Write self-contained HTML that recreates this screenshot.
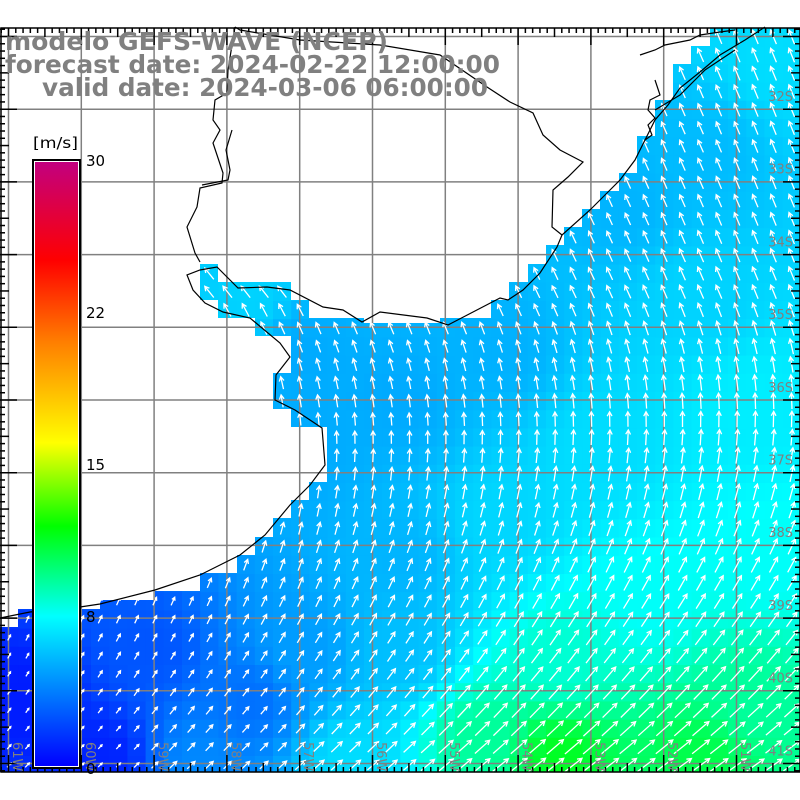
<!DOCTYPE html>
<html><head><meta charset="utf-8"><style>
html,body{margin:0;padding:0;background:#fff;}
svg{display:block;}
</style></head><body>
<svg id="s" width="800" height="800" viewBox="0 0 800 800" xmlns="http://www.w3.org/2000/svg">
<defs>
<clipPath id="ocean"><polygon id="op" points=""/></clipPath>
<linearGradient id="cb" x1="0" y1="0" x2="0" y2="1">
<stop offset="0" stop-color="#c2007f"/>
<stop offset="0.163" stop-color="#ff0000"/>
<stop offset="0.30" stop-color="#ff8000"/>
<stop offset="0.465" stop-color="#ffff00"/>
<stop offset="0.603" stop-color="#00ff00"/>
<stop offset="0.752" stop-color="#00ffff"/>
<stop offset="1" stop-color="#0000ff"/>
</linearGradient>
</defs>
<g id="cells" clip-path="url(#ocean)"></g>
<g id="grid" stroke="#808080" stroke-width="1.5" fill="none"></g>
<g id="arrows" clip-path="url(#ocean)" stroke="#fff" stroke-width="1.3" fill="none"></g>
<g fill="none" stroke="#000" stroke-width="1.2">
<polyline points="0,618 30,612 80,607 100,604 155,590 200,575 240,555 265,535 290,505 310,485 325,465 322,428 295,410 275,400 276,375 290,357 280,343 250,318 223,312 205,303 193,290 187,275 200,270 217,267 238,288 267,287 290,290 323,307 343,310 362,322 380,312 427,318 448,325 500,298 508,300 523,290 540,273 557,247 562,235 590,210 620,180 635,160 645,140 655,120 668,105 680,88 700,72 720,55 745,40 765,27"/>
<polyline points="235,27 232,45 228,70 227,93 215,100 213,120 220,130 213,143 223,173 222,183 200,188 197,207 187,227 195,253 200,262"/>
<polyline points="232,130 226,150 230,170 228,180 202,185"/>
<polyline points="235,27 240,30 300,40 380,45 440,55 487,87 510,102 533,113 543,135 560,150 583,162 568,177 553,190 552,227 562,235"/>
<polyline points="655,80 660,95 650,100 648,110 655,118 648,125 652,135 645,140"/>
<polyline points="640,55 655,50 665,45 690,40 700,35 720,32 735,30"/>
<polyline points="655,110 680,95 695,80 705,70 720,60 735,50"/>
</g>
<rect x="1" y="28" width="799" height="744" fill="none" stroke="#000" stroke-width="1.5"/>
<g id="ticks" stroke="#000" stroke-width="1.5"></g>
<g font-family="DejaVu Sans, Liberation Sans, sans-serif" font-size="13" fill="#808080" id="lab"></g>
<g font-family="DejaVu Sans, Liberation Sans, sans-serif" font-weight="bold" font-size="25" fill="#808080">
<text x="5" y="50" textLength="383" lengthAdjust="spacingAndGlyphs">modelo GEFS-WAVE (NCEP)</text>
<text x="5" y="73" textLength="495" lengthAdjust="spacingAndGlyphs">forecast date: 2024-02-22 12:00:00</text>
<text x="42" y="96" textLength="446" lengthAdjust="spacingAndGlyphs">valid date: 2024-03-06 06:00:00</text>
</g>
<rect x="33" y="160" width="47" height="608" fill="#fff" stroke="#000" stroke-width="2"/>
<rect x="35" y="162" width="43" height="604" fill="url(#cb)"/>
<g font-family="DejaVu Sans, Liberation Sans, sans-serif" font-size="15" fill="#000">
<text x="33" y="148" textLength="45" lengthAdjust="spacingAndGlyphs">[m/s]</text>
<text x="86" y="166">30</text>
<text x="86" y="318">22</text>
<text x="86" y="470">15</text>
<text x="86" y="622">8</text>
<text x="86" y="774">0</text>
</g>
</svg>
<script>
var NS="http://www.w3.org/2000/svg";
function el(t,a,p){var e=document.createElementNS(NS,t);for(var k in a)e.setAttribute(k,a[k]);p.appendChild(e);return e;}
var ocean="0,627 18,627 18,609 100,609 100,600 155,600 155,591 200,591 200,573 237,573 237,555 255,555 255,537 273,537 273,518 291,518 291,500 309,500 309,482 327,482 327,427 291,427 291,409 273,409 273,373 291,373 291,336 255,336 255,318 218,318 218,300 200,300 200,264 218,264 218,282 291,282 291,300 309,300 309,318 364,318 364,323 440,323 440,318 491,318 491,300 509,300 509,282 528,282 528,264 546,264 546,245 564,245 564,227 582,227 582,209 600,209 600,191 619,191 619,173 637,173 637,136 655,136 655,100 673,100 673,64 691,64 691,46 710,46 710,28 800,28 800,772 0,772";
document.getElementById('op').setAttribute('points',ocean);
var A=[[20,700,0.8],[100,760,1],[150,650,2.5],[250,700,3.3],[200,760,4],[300,650,4.6],[350,760,6.5],[400,650,5.6],[400,400,5],[300,350,5],[300,450,5],[500,520,6.3],[500,350,5.2],[600,450,6.5],[700,300,6.2],[700,150,5.5],[620,200,5.3],[770,60,6.5],[750,400,7],[650,600,7.6],[560,760,11.5],[480,740,9.3],[750,700,9.3],[700,760,10.8],[250,300,6.2],[400,560,5.3],[560,660,8.3],[770,560,7.6]];
function spd(x,y){var n=0,d=0;for(var i=0;i<A.length;i++){var dx=x-A[i][0],dy=y-A[i][1];var w=1/Math.pow(dx*dx+dy*dy+100,1.5);n+=w*A[i][2];d+=w;}return n/d;}
var CM=[[0,[0,0,255]],[7.5,[0,255,255]],[12.1,[0,255,0]],[16.2,[255,255,0]],[21,[255,128,0]],[25.2,[255,0,0]],[30,[194,0,127]]];
function col(s){for(var i=1;i<CM.length;i++){if(s<=CM[i][0]){var a=CM[i-1],b=CM[i],t=(s-a[0])/(b[0]-a[0]);var c=a[1].map(function(v,k){return Math.round(v+(b[1][k]-v)*t);});return 'rgb('+c.join(',')+')';}}return 'rgb(194,0,127)';}
var C=18.2,cells=document.getElementById('cells'),ar=document.getElementById('arrows');
for(var j=0;j<41;j++)for(var i=0;i<44;i++){
 var x0=i*C,y0=28+j*C,cx=x0+C/2,cy=y0+C/2,s=spd(cx,cy);
 el('rect',{x:x0.toFixed(1),y:y0.toFixed(1),width:(C+0.6).toFixed(1),height:(C+0.6).toFixed(1),fill:col(s)},cells);
 var ang;
 if(cy<300)ang=118+(cx<400?8:0);else if(cy<450)ang=118-(cy-300)/150*30;else if(cy<560)ang=88-(cy-450)/110*20;else ang=68-(cy-560)/210*28;
 ang-= (cx-400)/400*6;
 var r=ang*Math.PI/180,L=Math.min(4+s*1.7,22),ux=Math.cos(r),uy=-Math.sin(r);
 var tx=cx-ux*L/2,ty=cy-uy*L/2,hx=cx+ux*L/2,hy=cy+uy*L/2,h=Math.min(5,L*0.4);
 function rot(a){return [Math.cos(a)*(-ux)-Math.sin(a)*(-uy),Math.sin(a)*(-ux)+Math.cos(a)*(-uy)];}
 var p1=rot(0.5),p2=rot(-0.5);
 el('path',{d:'M'+tx.toFixed(1)+' '+ty.toFixed(1)+'L'+hx.toFixed(1)+' '+hy.toFixed(1)+'M'+(hx+p1[0]*h).toFixed(1)+' '+(hy+p1[1]*h).toFixed(1)+'L'+hx.toFixed(1)+' '+hy.toFixed(1)+'L'+(hx+p2[0]*h).toFixed(1)+' '+(hy+p2[1]*h).toFixed(1)},ar);
}
var g=document.getElementById('grid');
for(var k=0;k<11;k++){var x=8.5+k*72.8;el('line',{x1:x,y1:28,x2:x,y2:772},g);}
for(var k=0;k<11;k++){var y=36.5+k*72.7;el('line',{x1:0,y1:y,x2:800,y2:y},g);}
var t=document.getElementById('ticks');
for(var k=-1;k<=110;k++){var x=8.5+k*7.28;if(x<1||x>800)continue;var m=(k%10==0)?17:(k%5==0?9:5);
 el('line',{x1:x,y1:28,x2:x,y2:28+m},t);el('line',{x1:x,y1:772,x2:x,y2:772-m},t);}
for(var k=-1;k<=105;k++){var y=36.5+k*7.27;if(y<28||y>772)continue;var m=(k%10==0)?17:(k%5==0?9:5);
 el('line',{x1:0,y1:y,x2:m,y2:y},t);el('line',{x1:800,y1:y,x2:800-m,y2:y},t);}
var lab=document.getElementById('lab');
for(var k=0;k<10;k++){var n=32+k,y=101+k*72.7;var e=el('text',{x:793,y:y.toFixed(1),'text-anchor':'end'},lab);e.textContent=n+'S';}
for(var k=0;k<11;k++){var x=13+k*72.8;var e=el('text',{x:0,y:0,transform:'translate('+x.toFixed(1)+',742) rotate(90)'},lab);e.textContent=(61-k)+'W';}
</script>
</body></html>
